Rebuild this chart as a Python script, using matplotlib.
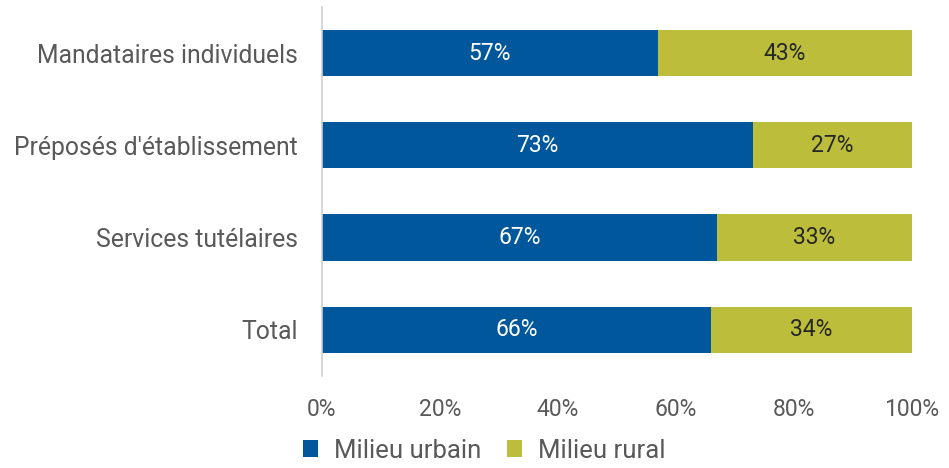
import numpy as np
import matplotlib.pyplot as plt

plt.rcParams['font.family'] = ['Roboto', 'DejaVu Sans']

# données
categories = ['Mandataires individuels', "Préposés d'établissement", 'Services tutélaires', 'Total']
urbain = [57, 73, 67, 66]
rural = [43, 27, 33, 34]
series_names = ['Milieu urbain', 'Milieu rural']
ticks = [0, 20, 40, 60, 80, 100]

blue = '#00579b'
olive = '#bcbe3b'
grey = '#595959'

fig = plt.figure(figsize=(9.49, 4.68), dpi=100)
ax = fig.add_axes([0.339, 0.197, 0.622, 0.788])

y = np.arange(len(categories))
b1 = ax.barh(y, urbain, height=0.5, color=blue, label=series_names[0])
b2 = ax.barh(y, rural, left=urbain, height=0.5, color=olive, label=series_names[1])

for i in range(len(categories)):
    ax.text(urbain[i] / 2, y[i], f'{urbain[i]}%', ha='center', va='center',
            color='white', fontsize=16.5)
    ax.text(urbain[i] + rural[i] / 2, y[i], f'{rural[i]}%', ha='center', va='center',
            color='#262626', fontsize=16.5)

ax.set_xlim(0, 100)
ax.set_ylim(len(categories) - 0.5, -0.5)
ax.set_yticks(y)
ax.set_yticklabels(categories, fontsize=17.8, color=grey)
ax.set_xticks(ticks)
ax.set_xticklabels([f'{t}%' for t in ticks], fontsize=16.5, color=grey)
ax.tick_params(axis='both', length=0)
ax.tick_params(axis='x', pad=16)
ax.tick_params(axis='y', pad=17)

for s in ['top', 'right', 'bottom']:
    ax.spines[s].set_visible(False)
ax.spines['left'].set_color('#d0d0d0')
ax.spines['left'].set_linewidth(1.2)

fig.legend(handles=[b1, b2], loc='lower center', bbox_to_anchor=(0.51, -0.038), ncol=2,
           frameon=False, fontsize=18.5, handlelength=0.6, handleheight=0.6,
           handletextpad=0.6, columnspacing=1.0, labelcolor=grey)

fig.savefig('out.png', dpi=100)
